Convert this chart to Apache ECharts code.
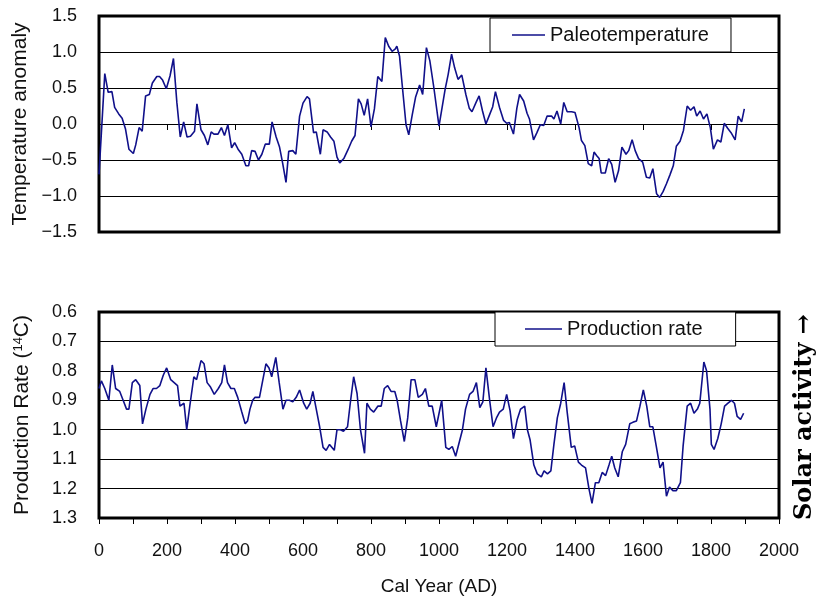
<!DOCTYPE html>
<html>
<head>
<meta charset="utf-8">
<script src="https://cdn.jsdelivr.net/npm/echarts@6/dist/echarts.min.js"></script>
<style>
  html, body { margin: 0; padding: 0; background: #fff; }
  #chart { width: 816px; height: 597px; }
</style>
</head>
<body>
<div id="chart"></div>
<script>
// Paleotemperature anomaly (upper panel)
const tempYears = [0,17,27,38,46,58,68,78,88,101,108,118,127,137,148,157,170,178,187,198,209,219,229,239,249,259,269,281,288,300,310,320,330,338,350,360,369,379,390,399,409,420,432,440,449,459,469,479,489,501,509,521,531,540,550,558,570,579,590,600,612,619,631,639,651,659,671,681,691,700,708,720,733,743,753,763,771,780,790,800,810,820,832,842,852,862,871,876,884,891,903,911,921,931,943,952,963,973,985,1000,1018,1027,1037,1046,1056,1067,1079,1089,1097,1109,1118,1128,1138,1148,1158,1166,1178,1190,1199,1207,1219,1229,1237,1249,1259,1266,1278,1288,1298,1308,1318,1331,1338,1347,1358,1367,1377,1390,1400,1412,1419,1429,1439,1449,1456,1464,1471,1477,1489,1499,1508,1518,1528,1538,1550,1558,1568,1577,1587,1599,1610,1620,1629,1640,1649,1659,1669,1679,1689,1698,1709,1719,1730,1740,1750,1758,1768,1778,1788,1798,1807,1819,1829,1839,1849,1859,1871,1880,1890,1898];
const tempValues = [-0.70,0.70,0.44,0.45,0.23,0.14,0.08,-0.07,-0.35,-0.41,-0.29,-0.05,-0.10,0.39,0.41,0.57,0.66,0.66,0.61,0.49,0.67,0.91,0.30,-0.18,0.03,-0.18,-0.17,-0.10,0.28,-0.08,-0.16,-0.29,-0.11,-0.14,-0.14,-0.05,-0.16,-0.01,-0.33,-0.26,-0.35,-0.42,-0.58,-0.58,-0.37,-0.38,-0.50,-0.42,-0.28,-0.28,0.03,-0.18,-0.32,-0.54,-0.81,-0.38,-0.37,-0.42,0.11,0.29,0.38,0.35,-0.12,-0.11,-0.42,-0.08,-0.11,-0.18,-0.24,-0.46,-0.54,-0.48,-0.35,-0.24,-0.16,0.35,0.28,0.12,0.35,-0.04,0.21,0.66,0.59,1.20,1.08,1.01,1.04,1.08,0.94,0.58,-0.01,-0.15,0.12,0.37,0.54,0.41,1.06,0.88,0.50,-0.03,0.48,0.69,0.97,0.78,0.62,0.68,0.41,0.22,0.17,0.30,0.39,0.18,0.00,0.12,0.24,0.45,0.23,0.05,0.01,0.02,-0.14,0.22,0.41,0.32,0.15,0.07,-0.22,-0.12,-0.01,-0.02,0.11,0.11,0.07,0.18,0.00,0.30,0.17,0.17,0.16,-0.05,-0.23,-0.30,-0.55,-0.58,-0.39,-0.44,-0.48,-0.68,-0.68,-0.48,-0.56,-0.81,-0.65,-0.32,-0.42,-0.37,-0.22,-0.37,-0.48,-0.53,-0.74,-0.75,-0.62,-0.97,-1.02,-0.94,-0.83,-0.71,-0.58,-0.31,-0.24,-0.09,0.25,0.19,0.24,0.11,0.18,0.07,0.14,-0.05,-0.35,-0.22,-0.25,0.01,-0.06,-0.12,-0.22,0.11,0.03,0.21];

// 14C production rate (lower panel, inverted axis)
const prodYears = [0,7,17,29,39,49,61,71,81,88,98,108,120,128,138,150,159,169,179,189,199,211,221,231,238,250,258,267,279,287,300,309,318,328,339,351,361,369,378,388,398,408,420,430,437,444,452,459,472,482,491,500,508,520,530,541,550,560,570,580,590,602,611,621,629,639,649,659,668,678,692,700,710,719,731,739,749,759,769,781,788,798,808,820,830,839,849,859,870,877,887,898,908,918,929,939,951,960,970,980,992,1008,1020,1029,1039,1049,1059,1069,1078,1090,1100,1110,1120,1129,1138,1149,1159,1169,1178,1189,1199,1209,1219,1230,1240,1252,1260,1268,1279,1289,1301,1309,1319,1329,1338,1348,1358,1368,1377,1389,1399,1410,1419,1431,1441,1450,1460,1470,1480,1490,1500,1508,1517,1527,1539,1549,1561,1570,1581,1591,1601,1611,1620,1629,1639,1650,1659,1669,1678,1688,1698,1710,1718,1730,1740,1750,1760,1767,1779,1787,1797,1801,1809,1820,1830,1840,1850,1860,1869,1877,1887,1896];
const prodValues = [0.86,0.834,0.86,0.90,0.78,0.86,0.87,0.90,0.93,0.93,0.84,0.83,0.85,0.98,0.93,0.88,0.86,0.86,0.85,0.815,0.79,0.83,0.84,0.85,0.92,0.91,1.00,0.92,0.82,0.83,0.765,0.776,0.84,0.855,0.88,0.86,0.84,0.78,0.84,0.86,0.86,0.89,0.94,0.98,0.97,0.93,0.90,0.89,0.89,0.83,0.776,0.79,0.82,0.754,0.84,0.93,0.90,0.90,0.905,0.89,0.865,0.91,0.93,0.91,0.87,0.93,0.99,1.06,1.07,1.05,1.07,1.00,1.00,1.005,0.99,0.91,0.82,0.877,1.00,1.08,0.91,0.93,0.94,0.92,0.92,0.86,0.85,0.87,0.87,0.90,0.97,1.04,0.96,0.83,0.83,0.89,0.88,0.86,0.92,0.92,0.99,0.90,1.06,1.067,1.057,1.09,1.045,1.00,0.93,0.88,0.87,0.84,0.925,0.905,0.79,0.90,0.99,0.96,0.94,0.93,0.88,0.935,1.03,0.965,0.93,0.92,1.00,1.035,1.12,1.15,1.16,1.14,1.15,1.14,1.05,0.96,0.91,0.84,0.94,1.06,1.055,1.11,1.12,1.13,1.20,1.25,1.18,1.18,1.145,1.156,1.12,1.09,1.13,1.16,1.075,1.05,0.98,0.975,0.97,0.92,0.865,0.92,0.99,0.99,1.056,1.13,1.11,1.226,1.195,1.207,1.207,1.18,1.055,0.92,0.91,0.944,0.93,0.91,0.77,0.80,0.93,1.05,1.067,1.03,0.98,0.92,0.91,0.90,0.91,0.955,0.965,0.944];

const tempTicks = { min: -1.5, max: 1.5, step: 0.5 };
const prodTicks = { min: 0.6, max: 1.3, step: 0.1 };
const yearTicks = { min: 0, max: 2000, step: 100 };

const zip = (xs, ys) => xs.map((x, i) => [x, ys[i]]);
const FONT = '"Liberation Sans", Arial, sans-serif';
const LINE = '#10108a';
const minus = v => v.toFixed(1).replace('-', '\u2212');

const chart = echarts.init(document.getElementById('chart'), null, { renderer: 'canvas' });

chart.setOption({
  animation: false,
  backgroundColor: '#fff',
  grid: [
    { left: 99, right: 37, top: 16, height: 216, show: true, borderColor: '#000', borderWidth: 3, backgroundColor: 'transparent' },
    { left: 99, right: 37, top: 312, height: 209, show: true, borderColor: '#000', borderWidth: 3, backgroundColor: 'transparent' }
  ],
  legend: [
    {
      data: ['Paleotemperature'], left: 490, top: 18,
      backgroundColor: '#fff', borderColor: '#000', borderWidth: 1,
      padding: [7, 22, 7, 22], itemWidth: 33, itemHeight: 1.6, icon: 'rect',
      itemStyle: { color: LINE },
      textStyle: { fontFamily: FONT, fontSize: 20, color: '#111' }
    },
    {
      data: ['Production rate'], left: 495, top: 312,
      backgroundColor: '#fff', borderColor: '#000', borderWidth: 1,
      padding: [7, 33, 7, 30], itemWidth: 37, itemHeight: 1.6, icon: 'rect',
      itemStyle: { color: LINE },
      textStyle: { fontFamily: FONT, fontSize: 20, color: '#111' }
    }
  ],
  xAxis: [
    {
      type: 'value', gridIndex: 0, min: yearTicks.min, max: yearTicks.max, interval: 200,
      axisLine: { show: false },
      axisTick: { show: true, length: 6, lineStyle: { color: '#000', width: 1 } },
      axisLabel: { show: false },
      splitLine: { show: false }
    },
    {
      type: 'value', gridIndex: 1, min: yearTicks.min, max: yearTicks.max, interval: yearTicks.step,
      axisLine: { show: false },
      axisTick: { show: true, length: 6, lineStyle: { color: '#000', width: 1 } },
      axisLabel: {
        margin: 24, fontFamily: FONT, fontSize: 18, color: '#111',
        formatter: v => (v % 200 === 0 ? String(v) : '')
      },
      splitLine: { show: false },
      name: 'Cal Year (AD)', nameLocation: 'middle', nameGap: 59,
      nameTextStyle: { fontFamily: FONT, fontSize: 19, color: '#111' }
    }
  ],
  yAxis: [
    {
      type: 'value', gridIndex: 0, min: tempTicks.min, max: tempTicks.max, interval: tempTicks.step,
      axisLine: { show: false }, axisTick: { show: false },
      axisLabel: { margin: 22, fontFamily: FONT, fontSize: 18, color: '#111', formatter: minus },
      splitLine: { show: true, lineStyle: { color: '#000', width: 1 } },
      name: 'Temperature anomaly', nameLocation: 'middle', nameGap: 66, nameRotate: 90,
      nameTextStyle: { fontFamily: FONT, fontSize: 21, color: '#111' }
    },
    {
      type: 'value', gridIndex: 1, inverse: true, min: prodTicks.min, max: prodTicks.max, interval: prodTicks.step,
      axisLine: { show: false }, axisTick: { show: false },
      axisLabel: { margin: 22, fontFamily: FONT, fontSize: 18, color: '#111', formatter: v => v.toFixed(1) },
      splitLine: { show: true, lineStyle: { color: '#000', width: 1 } },
      name: 'Production Rate ({sup|14}C)', nameLocation: 'middle', nameGap: 66, nameRotate: 90,
      nameTextStyle: {
        fontFamily: FONT, fontSize: 21, color: '#111',
        rich: { sup: { fontFamily: FONT, fontSize: 13, color: '#111', verticalAlign: 'top', padding: [0, 0, 8, 0] } }
      }
    }
  ],
  series: [
    {
      name: 'Paleotemperature', type: 'line', xAxisIndex: 0, yAxisIndex: 0,
      data: zip(tempYears, tempValues), symbol: 'none', smooth: false,
      lineStyle: { color: LINE, width: 1.6 }, itemStyle: { color: LINE }
    },
    {
      name: 'Production rate', type: 'line', xAxisIndex: 1, yAxisIndex: 1,
      data: zip(prodYears, prodValues), symbol: 'none', smooth: false,
      lineStyle: { color: LINE, width: 1.6 }, itemStyle: { color: LINE }
    }
  ],
  graphic: [
    {
      type: 'text', x: 805, y: 417, rotation: Math.PI / 2,
      style: {
        text: 'Solar activity \u2192', fill: '#000',
        fontFamily: '"DejaVu Serif", "Liberation Serif", serif',
        fontWeight: 'bold', fontSize: 24,
        align: 'center', verticalAlign: 'middle'
      }
    }
  ]
});
</script>
</body>
</html>
